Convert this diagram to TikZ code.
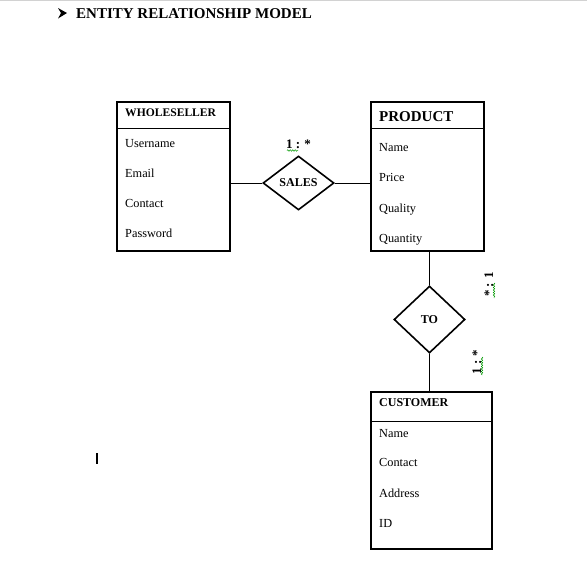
\documentclass[tikz,border=0pt]{standalone}
\usepackage{fontspec}
\setmainfont{Liberation Serif}
\usetikzlibrary{shapes.geometric,decorations.pathmorphing}
\tikzset{
  entity/.style={draw, line width=1.8pt, anchor=north west, inner sep=0pt},
  rel/.style={draw, diamond, line width=1.6pt, inner sep=0pt, font=\fontsize{12}{12}\selectfont\bfseries},
  attr/.style={anchor=base west, inner sep=0pt, font=\fontsize{12.3}{12}\selectfont},
  ehead/.style={anchor=base west, inner sep=0pt, font=\fontsize{12}{12}\selectfont\bfseries},
  conn/.style={line width=0.9pt},
  card/.style={inner sep=0pt, font=\fontsize{13}{13}\selectfont\bfseries},
  squig/.style={draw=green!60!black, line width=0.5pt, decorate, decoration={snake, amplitude=0.8pt, segment length=2.5pt}}
}
\begin{document}
\begin{tikzpicture}[x=1pt,y=-1pt]
\useasboundingbox (0,0) rectangle (587,563);
\fill[white] (0,0) rectangle (587,563);
\draw[gray!35, line width=1pt] (0,0.5) -- (587,0.5);
% title
\fill (58,8) -- (67,13) -- (58,18.5) -- (61,13) -- cycle;
\node[anchor=base west, inner sep=0pt, font=\fontsize{15}{15}\selectfont\bfseries] (title) at (76,18) {ENTITY RELATIONSHIP MODEL};
% WHOLESELLER
\node[entity, minimum width=113pt, minimum height=149pt] (wh) at (116,101) {};
\draw[conn] (116,128) -- (229,128);
\node[ehead, font=\fontsize{11.6}{12}\selectfont\bfseries] (whh) at (125,116) {WHOLESELLER};
\node[attr] (wh1) at (125,147.5) {Username};
\node[attr] (wh2) at (125,177.5) {Email};
\node[attr] (wh3) at (125,207.5) {Contact};
\node[attr] (wh4) at (125,237.5) {Password};
% PRODUCT
\node[entity, minimum width=113pt, minimum height=149pt] (pr) at (370,101) {};
\draw[conn] (370,128) -- (483,128);
\node[ehead, font=\fontsize{15}{15}\selectfont\bfseries] (prh) at (379,121.5) {PRODUCT};
\node[attr] (pr1) at (379,151.5) {Name};
\node[attr] (pr2) at (379,181.5) {Price};
\node[attr] (pr3) at (379,212) {Quality};
\node[attr] (pr4) at (379,242.5) {Quantity};
% CUSTOMER
\node[entity, minimum width=121pt, minimum height=157pt] (cu) at (370,391) {};
\draw[conn] (370,421) -- (491,421);
\node[ehead] (cuh) at (379,406.5) {CUSTOMER};
\node[attr] (cu1) at (379,437) {Name};
\node[attr] (cu2) at (379,466.5) {Contact};
\node[attr] (cu3) at (379,497.5) {Address};
\node[attr] (cu4) at (379,527.5) {ID};
% relationships
\node[rel, minimum width=71pt, minimum height=54pt] (sales) at (298.5,183) {SALES};
\node[rel, minimum width=71pt, minimum height=67pt] (to) at (429.5,319.5) {TO};
% connectors
\draw[conn] (sales.west -| wh.east) -- (sales.west);
\draw[conn] (sales.east) -- (sales.east -| pr.west);
\draw[conn] (to.north |- pr.south) -- (to.north);
\draw[conn] (to.south) -- (to.south |- cu.north);
% cardinalities
\node[card, anchor=base] (c1) at (298.5,148) {1 : *};
\draw[squig] (287,150.5) -- (298,150.5);
\node[card, rotate=90] (c2) at (489,284.5) {* : 1};
\draw[squig] (494,283) -- (494,298);
\node[card, rotate=90] (c3) at (477,362) {1 : *};
\draw[squig] (482,357) -- (482,375);
% cursor
\draw[line width=1.4pt] (97,453) -- (97,464);
\end{tikzpicture}
\end{document}
